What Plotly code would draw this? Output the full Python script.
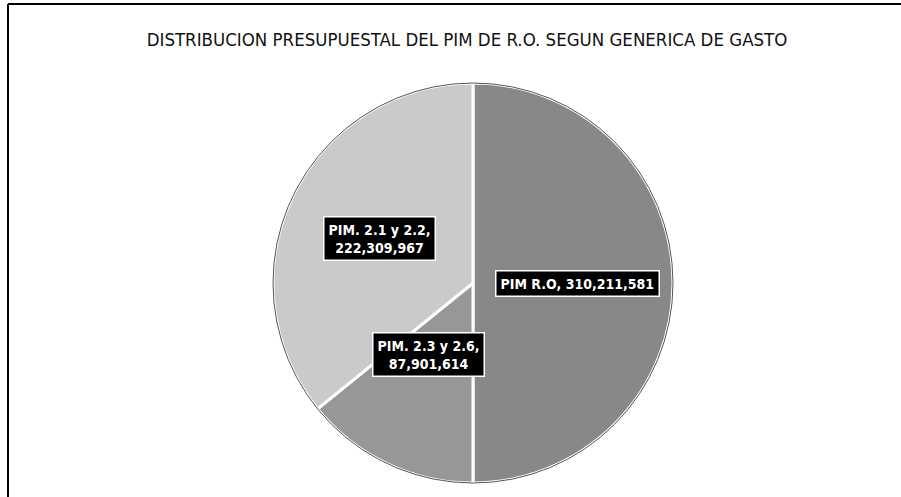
import math
import plotly.graph_objects as go

title_text = "DISTRIBUCION PRESUPUESTAL DEL PIM DE R.O. SEGUN GENERICA DE GASTO"
labels = ["PIM R.O", "PIM. 2.3 y 2.6", "PIM. 2.1 y 2.2"]
values = [310211581, 87901614, 222309967]
colors = ["#888888", "#979797", "#cacaca"]
label_breaks = [False, True, True]

FONT = "DejaVu Sans Condensed, Liberation Sans, sans-serif"
W, H = 901, 497
cx, cy, r = 473, 283, 200
dom_x = [(cx - r) / W, (cx + r) / W]
dom_y = [(H - cy - r) / H, (H - cy + r) / H]

fig = go.Figure()
fig.add_trace(go.Pie(
    labels=labels, values=values, sort=False, direction="clockwise", rotation=0,
    marker=dict(colors=colors, line=dict(color="white", width=3)),
    textinfo="none", hoverinfo="label+value", showlegend=False,
    domain=dict(x=dom_x, y=dom_y),
))

total = sum(values)
cum = 0
annotations = []
for lab, v, br in zip(labels, values, label_breaks):
    mid = (cum + v / 2) / total * 2 * math.pi
    cum += v
    px = cx + 0.52 * r * math.sin(mid)
    py = cy - 0.52 * r * math.cos(mid)
    sep = ",<br>" if br else ", "
    txt = f"{lab}{sep}{v:,}"
    annotations.append(dict(
        x=px / W, y=1 - py / H, xref="paper", yref="paper", text=txt,
        showarrow=False, align="center",
        font=dict(family=FONT, size=14, color="white", weight="bold"),
        bgcolor="black", bordercolor="white", borderwidth=1.5, borderpad=4,
    ))

fig.update_layout(
    width=W, height=H, margin=dict(l=0, r=0, t=0, b=0),
    paper_bgcolor="white", plot_bgcolor="white",
    title=dict(text=title_text, x=467 / W, xanchor="center", y=1 - 40 / H, yanchor="middle",
               font=dict(family=FONT, size=18.5, color="#111111")),
    annotations=annotations,
    shapes=[
        dict(type="circle", xref="paper", yref="paper",
             x0=dom_x[0], x1=dom_x[1], y0=dom_y[0], y1=dom_y[1],
             line=dict(color="#555555", width=1)),
        dict(type="line", xref="paper", yref="paper", x0=8 / W, x1=1, y0=1 - 4 / H, y1=1 - 4 / H,
             line=dict(color="black", width=2)),
        dict(type="line", xref="paper", yref="paper", x0=8 / W, x1=8 / W, y0=0, y1=1 - 4 / H,
             line=dict(color="black", width=2)),
    ],
)
fig.write_html("out.html", config={"displayModeBar": False},
               post_script="document.body.style.margin='0';")
